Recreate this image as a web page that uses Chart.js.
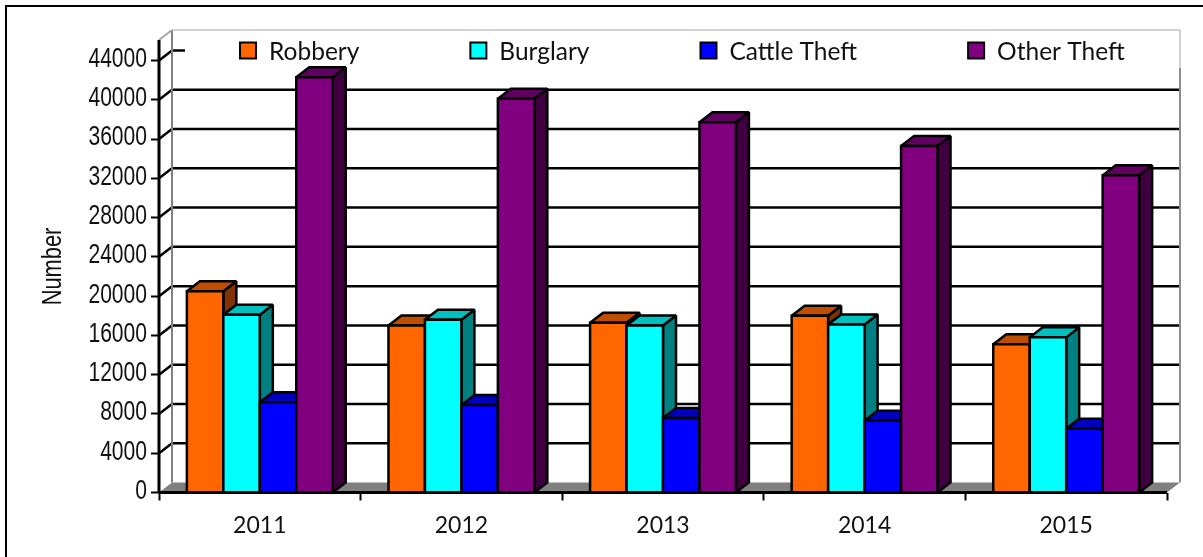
<!DOCTYPE html>
<html>
<head>
<meta charset="utf-8">
<title>Theft by year</title>
<script src="https://cdn.jsdelivr.net/npm/chart.js@4"></script>
<style>
  html, body { margin: 0; padding: 0; background: #fff; overflow: hidden; }
  #frame { position: absolute; left: 5px; top: 5px; right: 0; bottom: 0; border-left: 2px solid #000; border-top: 2px solid #000; }
  canvas { position: absolute; left: 0; top: 0; }
</style>
</head>
<body>
<div id="frame"></div>
<canvas id="chart" width="1203" height="557"></canvas>
<script>
// ========== DATA ==========
const years = ["2011", "2012", "2013", "2014", "2015"];
const robbery = [20500, 17000, 17300, 18000, 15100];
const burglary = [18100, 17600, 17000, 17100, 15800];
const cattleTheft = [9200, 8900, 7600, 7300, 6500];
const otherTheft = [42300, 40100, 37700, 35300, 32300];

// ========== 3D LOOK ==========
const DEPTH_X = 13;
const DEPTH_Y = 10;
const LINE_W = 2.5;
const TICK_FONT = "'Liberation Sans', sans-serif";
const LABEL_FONT = "Lato, sans-serif";
const NARROW = 0.78; // the y axis text is a condensed face

function poly(ctx, pts, fill, stroke, width) {
  ctx.beginPath();
  pts.forEach((p, i) => (i ? ctx.lineTo(p[0], p[1]) : ctx.moveTo(p[0], p[1])));
  ctx.closePath();
  if (fill) {
    ctx.fillStyle = fill;
    ctx.fill();
  }
  if (stroke) {
    ctx.strokeStyle = stroke;
    ctx.lineWidth = width;
    ctx.stroke();
  }
}

function line(ctx, x1, y1, x2, y2, color, width) {
  ctx.beginPath();
  ctx.moveTo(x1, y1);
  ctx.lineTo(x2, y2);
  ctx.strokeStyle = color;
  ctx.lineWidth = width;
  ctx.stroke();
}

function narrowText(ctx, text, x, y, rotation) {
  ctx.save();
  ctx.translate(x, y);
  ctx.rotate(rotation);
  ctx.scale(NARROW, 1);
  ctx.fillText(text, 0, 0);
  ctx.restore();
}

// back wall, floor and gridlines
const wallPlugin = {
  id: "wall",
  beforeDatasetsDraw(chart) {
    const { ctx, chartArea: a, scales } = chart;
    const backL = a.left + DEPTH_X;
    const backR = a.right + DEPTH_X;
    const backB = a.bottom - DEPTH_Y;
    const yTop = 30;
    ctx.save();
    poly(ctx, [[a.left, a.bottom], [backL, backB], [backR, backB], [a.right, a.bottom]], "#808080");
    scales.y.ticks.forEach((t) => {
      const y = scales.y.getPixelForValue(t.value);
      if (t.value > 0) {
        line(ctx, backL, y - DEPTH_Y, t.value === 44000 ? backL + 13 : backR, y - DEPTH_Y, "#000", LINE_W);
        line(ctx, a.left, y, backL, y - DEPTH_Y, "#000", LINE_W);
      }
    });
    line(ctx, backL, yTop, backL, backB, "#808080", 2);
    line(ctx, backL, yTop, backR, yTop, "#a6a6a6", 1);
    line(ctx, a.left, yTop + DEPTH_Y, backL, yTop, "#a6a6a6", 2);
    line(ctx, backR, yTop, backR, 68, "#a6a6a6", 1);
    line(ctx, backR, 68, backR, backB, "#8c8c8c", 2);
    line(ctx, a.left, yTop + DEPTH_Y, a.left, a.bottom, "#000", 3);
    ctx.restore();
  },
  // the bars are drawn by hand below, first series first, so the sides overlap properly
  beforeDatasetDraw() {
    return false;
  },
  afterDatasetsDraw(chart) {
    const { ctx, scales } = chart;
    const b = chart.chartArea.bottom;
    ctx.save();
    ctx.lineJoin = "miter";
    ctx.miterLimit = 1.5;
    chart.data.datasets.forEach((ds, i) => {
      chart.getDatasetMeta(i).data.forEach((bar) => {
        const { x, y, width } = bar.getProps(["x", "y", "width"], true);
        const l = x - width / 2;
        const r = x + width / 2;
        poly(ctx, [[r, y], [r + DEPTH_X, y - DEPTH_Y], [r + DEPTH_X, b - DEPTH_Y], [r, b]], ds.sideColor, "#000", LINE_W);
        poly(ctx, [[l, y], [l + DEPTH_X, y - DEPTH_Y], [r + DEPTH_X, y - DEPTH_Y], [r, y]], ds.topColor, "#000", LINE_W);
        poly(ctx, [[l, y], [r, y], [r, b], [l, b]], ds.backgroundColor, "#000", LINE_W);
      });
    });
    line(ctx, chart.chartArea.left, b, chart.chartArea.right, b, "#000", 3);
    drawLegend(chart);

    // y labels and title
    ctx.font = "27px " + TICK_FONT;
    ctx.fillStyle = "#111";
    ctx.textBaseline = "middle";
    ctx.textAlign = "right";
    scales.y.ticks.forEach((t) => {
      narrowText(ctx, t.label, 147, scales.y.getPixelForValue(t.value) - 1, 0);
    });
    ctx.font = "28px " + TICK_FONT;
    ctx.textAlign = "center";
    narrowText(ctx, "Number", 53, 266.5, -Math.PI / 2);
    ctx.restore();
  },
};

// single row legend with even gaps, over the top of the wall
function drawLegend(chart) {
  const { ctx } = chart;
  const boxY = 42.5;
  const boxSize = 16;
  const gap = 111;
  let x = 240;
  ctx.font = "24.5px " + LABEL_FONT;
  ctx.textBaseline = "middle";
  ctx.textAlign = "left";
  chart.data.datasets.forEach((ds) => {
    ctx.fillStyle = ds.backgroundColor;
    ctx.strokeStyle = "#000";
    ctx.lineWidth = 2;
    ctx.fillRect(x, boxY, boxSize, boxSize);
    ctx.strokeRect(x, boxY, boxSize, boxSize);
    ctx.fillStyle = "#111";
    ctx.fillText(ds.label, x + 29, boxY + 9.5);
    x += 29 + ctx.measureText(ds.label).width + gap;
  });
}

function series(label, data, color, topColor, sideColor) {
  return {
    label,
    data,
    backgroundColor: color,
    topColor,
    sideColor,
    borderColor: "#000",
    borderWidth: LINE_W,
    barPercentage: 1,
    categoryPercentage: 0.7235,
  };
}

// ========== CHART ==========
new Chart(document.getElementById("chart"), {
  type: "bar",
  data: {
    labels: years,
    datasets: [
      series("Robbery", robbery, "#ff6600", "#bf4d00", "#803300"),
      series("Burglary", burglary, "#00ffff", "#00bfbf", "#008080"),
      series("Cattle Theft", cattleTheft, "#0000ff", "#0000bf", "#000080"),
      series("Other Theft", otherTheft, "#800080", "#600060", "#400040"),
    ],
  },
  plugins: [wallPlugin],
  options: {
    responsive: false,
    animation: false,
    layout: { padding: { left: 42, top: 60.5, right: 36, bottom: 0 } },
    plugins: { legend: { display: false }, tooltip: { enabled: false } },
    scales: {
      x: {
        afterFit(scale) {
          scale.height = 64.5;
        },
        border: { display: false },
        grid: {
          offset: true,
          drawOnChartArea: false,
          tickLength: 8,
          tickWidth: 2,
          tickColor: (c) => (c.index === years.length ? "transparent" : "#000"),
        },
        ticks: { color: "#111", font: { family: LABEL_FONT, size: 23 }, padding: 11, maxRotation: 0 },
      },
      y: {
        min: 0,
        max: 44000,
        afterFit(scale) {
          scale.width = 117;
        },
        border: { display: false },
        grid: { drawOnChartArea: false, tickLength: 8, tickWidth: 2, tickColor: "#000" },
        ticks: { stepSize: 4000, display: false, callback: (v) => String(v) },
      },
    },
  },
});
</script>
</body>
</html>
